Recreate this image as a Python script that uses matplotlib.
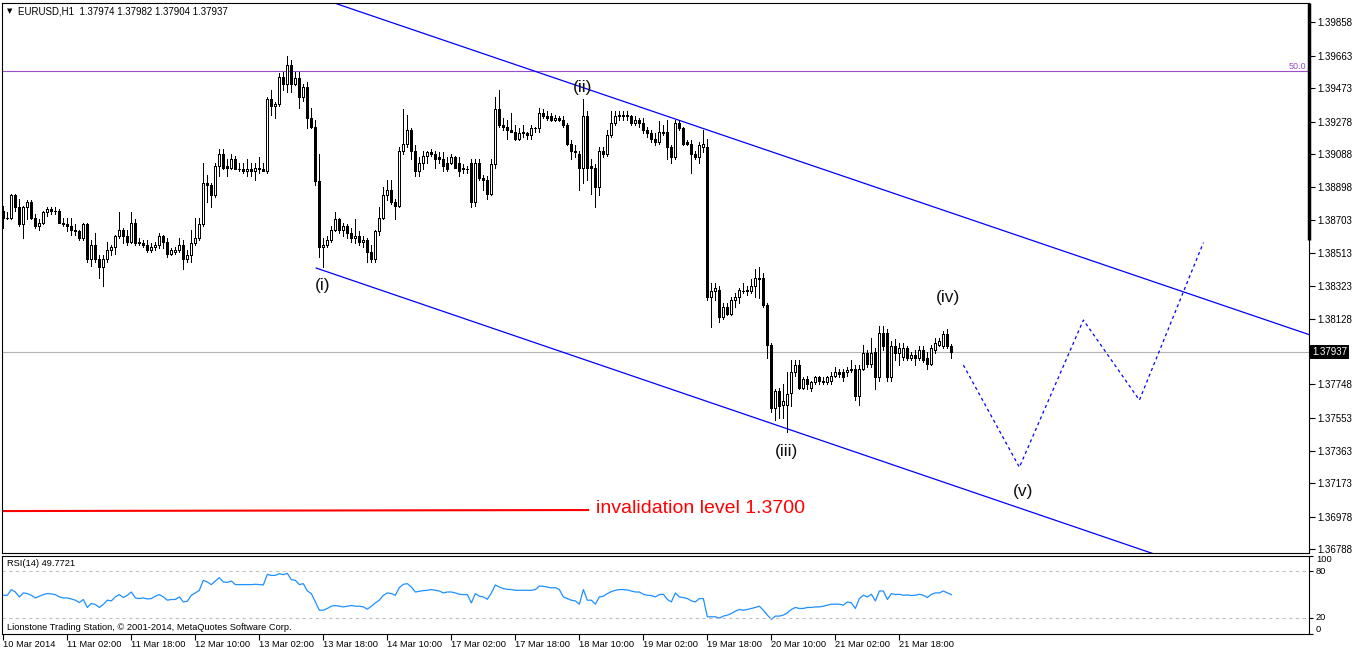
import numpy as np
import matplotlib
matplotlib.use("Agg")
import matplotlib.pyplot as plt
import matplotlib.transforms as mtransforms

plt.rcParams['font.family'] = ['Liberation Sans', 'DejaVu Sans']

# EURUSD H1, one entry per hourly bar (10 Mar 2014 10:00 -> 21 Mar 2014)
opens = [
    1.3876, 1.3872, 1.3872, 1.3885, 1.3878, 1.3868, 1.3878, 1.3881, 1.3872, 1.3867,
    1.3869, 1.3875, 1.3877, 1.3876, 1.3876, 1.3869, 1.3868, 1.3867, 1.3865, 1.3864,
    1.3860, 1.3868, 1.3848, 1.3856, 1.3848, 1.3843, 1.3848, 1.3853, 1.3855, 1.3861,
    1.3865, 1.3861, 1.3858, 1.3869, 1.3858, 1.3857, 1.3856, 1.3853, 1.3855, 1.3856,
    1.3861, 1.3858, 1.3851, 1.3852, 1.3853, 1.3856, 1.3848, 1.3850, 1.3857, 1.3860,
    1.3868, 1.3892, 1.3891, 1.3885, 1.3902, 1.3909, 1.3902, 1.3901, 1.3906, 1.3900,
    1.3900, 1.3899, 1.3900, 1.3899, 1.3901, 1.3900, 1.3899, 1.3941, 1.3937, 1.3938,
    1.3954, 1.3950, 1.3961, 1.3950, 1.3953, 1.3942, 1.3948, 1.3930, 1.3925, 1.3893,
    1.3855, 1.3856, 1.3859, 1.3865, 1.3871, 1.3865, 1.3867, 1.3863, 1.3860, 1.3861,
    1.3858, 1.3859, 1.3852, 1.3848, 1.3864, 1.3872, 1.3885, 1.3888, 1.3881, 1.3879,
    1.3911, 1.3915, 1.3923, 1.3911, 1.3899, 1.3904, 1.3908, 1.3910, 1.3909, 1.3907,
    1.3906, 1.3904, 1.3904, 1.3907, 1.3904, 1.3901, 1.3900, 1.3904, 1.3881, 1.3904,
    1.3895, 1.3894, 1.3886, 1.3903, 1.3935, 1.3926, 1.3925, 1.3923, 1.3922, 1.3918,
    1.3921, 1.3921, 1.3920, 1.3924, 1.3924, 1.3933, 1.3931, 1.3931, 1.3929, 1.3930,
    1.3929, 1.3926, 1.3915, 1.3911, 1.3909, 1.3901, 1.3931, 1.3902, 1.3901, 1.3890,
    1.3911, 1.3909, 1.3920, 1.3927, 1.3931, 1.3932, 1.3931, 1.3931, 1.3927, 1.3929,
    1.3927, 1.3923, 1.3921, 1.3918, 1.3916, 1.3921, 1.3922, 1.3913, 1.3907, 1.3927,
    1.3924, 1.3916, 1.3915, 1.3909, 1.3907, 1.3913, 1.3913, 1.3826, 1.3829, 1.3830,
    1.3814, 1.3820, 1.3816, 1.3824, 1.3826, 1.3829, 1.3830, 1.3829, 1.3832, 1.3836,
    1.3837, 1.3821, 1.3798, 1.3761, 1.3771, 1.3763, 1.3763, 1.3770, 1.3782, 1.3786,
    1.3773, 1.3778, 1.3773, 1.3776, 1.3779, 1.3777, 1.3776, 1.3777, 1.3780, 1.3782,
    1.3782, 1.3782, 1.3784, 1.3784, 1.3768, 1.3784, 1.3793, 1.3787, 1.3794, 1.3779,
    1.3805, 1.3805, 1.3779, 1.3797, 1.3793, 1.3791, 1.3796, 1.3790, 1.3792, 1.3790,
    1.3795, 1.3790, 1.3787, 1.3795, 1.3798, 1.3797, 1.3804, 1.37974,
]
highs = [
    1.3879, 1.3875, 1.3886, 1.3886, 1.3883, 1.3879, 1.3882, 1.3882, 1.3874, 1.3871,
    1.3876, 1.3878, 1.3878, 1.3878, 1.3877, 1.3872, 1.3872, 1.3872, 1.3868, 1.3865,
    1.3869, 1.3869, 1.3859, 1.3863, 1.3850, 1.3850, 1.3858, 1.3856, 1.3862, 1.3875,
    1.3866, 1.3865, 1.3875, 1.3871, 1.3860, 1.3859, 1.3859, 1.3857, 1.3858, 1.3863,
    1.3862, 1.3860, 1.3854, 1.3855, 1.3860, 1.3859, 1.3853, 1.3865, 1.3872, 1.3872,
    1.3904, 1.3897, 1.3892, 1.3904, 1.3912, 1.3912, 1.3906, 1.3909, 1.3908, 1.3904,
    1.3904, 1.3906, 1.3904, 1.3904, 1.3907, 1.3904, 1.3942, 1.3946, 1.3939, 1.3956,
    1.3957, 1.3966, 1.3964, 1.3957, 1.3957, 1.3950, 1.3951, 1.3936, 1.3929, 1.3909,
    1.3860, 1.3861, 1.3867, 1.3875, 1.3872, 1.3869, 1.3868, 1.3866, 1.3871, 1.3864,
    1.3861, 1.3860, 1.3856, 1.3865, 1.3878, 1.3890, 1.3894, 1.3894, 1.3883, 1.3913,
    1.3935, 1.3932, 1.3924, 1.3914, 1.3907, 1.3911, 1.3911, 1.3912, 1.3911, 1.3910,
    1.3910, 1.3907, 1.3909, 1.3908, 1.3907, 1.3903, 1.3902, 1.3906, 1.3906, 1.3906,
    1.3897, 1.3896, 1.3906, 1.3942, 1.3946, 1.3930, 1.3929, 1.3933, 1.3926, 1.3924,
    1.3926, 1.3922, 1.3926, 1.3925, 1.3936, 1.3935, 1.3934, 1.3933, 1.3932, 1.3931,
    1.3931, 1.3927, 1.3917, 1.3914, 1.3911, 1.3941, 1.3934, 1.3906, 1.3903, 1.3913,
    1.3913, 1.3923, 1.3934, 1.3934, 1.3934, 1.3934, 1.3934, 1.3932, 1.3931, 1.3930,
    1.3930, 1.3925, 1.3923, 1.3921, 1.3928, 1.3926, 1.3929, 1.3914, 1.3929, 1.3929,
    1.3925, 1.3917, 1.3917, 1.3911, 1.3916, 1.3923, 1.3918, 1.3834, 1.3834, 1.3832,
    1.3822, 1.3822, 1.3826, 1.3828, 1.3831, 1.3834, 1.3832, 1.3836, 1.3842, 1.3843,
    1.3840, 1.3822, 1.3799, 1.3772, 1.3773, 1.3775, 1.3782, 1.3789, 1.3789, 1.3789,
    1.3779, 1.3780, 1.3777, 1.3780, 1.3780, 1.3779, 1.3780, 1.3782, 1.3785, 1.3784,
    1.3784, 1.3785, 1.3789, 1.3786, 1.3786, 1.3798, 1.3795, 1.3802, 1.3796, 1.3809,
    1.3809, 1.3807, 1.3800, 1.3801, 1.3799, 1.3799, 1.3797, 1.3794, 1.3795, 1.3797,
    1.3797, 1.3794, 1.3798, 1.3802, 1.3802, 1.3806, 1.3807, 1.37982,
]
lows = [
    1.3866, 1.3871, 1.3871, 1.3876, 1.3867, 1.3860, 1.3871, 1.3871, 1.3866, 1.3865,
    1.3868, 1.3873, 1.3874, 1.3874, 1.3869, 1.3867, 1.3864, 1.3862, 1.3862, 1.3859,
    1.3859, 1.3846, 1.3844, 1.3846, 1.3837, 1.3832, 1.3846, 1.3850, 1.3851, 1.3860,
    1.3857, 1.3856, 1.3857, 1.3856, 1.3856, 1.3855, 1.3852, 1.3852, 1.3853, 1.3854,
    1.3854, 1.3849, 1.3850, 1.3851, 1.3852, 1.3842, 1.3846, 1.3846, 1.3856, 1.3859,
    1.3867, 1.3881, 1.3878, 1.3884, 1.3896, 1.3900, 1.3896, 1.3900, 1.3900, 1.3899,
    1.3898, 1.3896, 1.3896, 1.3894, 1.3898, 1.3899, 1.3898, 1.3932, 1.3930, 1.3937,
    1.3946, 1.3945, 1.3945, 1.3949, 1.3936, 1.3940, 1.3924, 1.3924, 1.3891, 1.3849,
    1.3843, 1.3855, 1.3858, 1.3864, 1.3863, 1.3861, 1.3860, 1.3858, 1.3857, 1.3856,
    1.3855, 1.3846, 1.3846, 1.3846, 1.3862, 1.3871, 1.3882, 1.3880, 1.3871, 1.3878,
    1.3909, 1.3913, 1.3906, 1.3896, 1.3896, 1.3900, 1.3904, 1.3908, 1.3901, 1.3904,
    1.3899, 1.3899, 1.3903, 1.3901, 1.3896, 1.3898, 1.3898, 1.3878, 1.3879, 1.3894,
    1.3888, 1.3883, 1.3885, 1.3901, 1.3925, 1.3923, 1.3918, 1.3922, 1.3917, 1.3917,
    1.3919, 1.3918, 1.3918, 1.3922, 1.3922, 1.3930, 1.3929, 1.3928, 1.3928, 1.3928,
    1.3925, 1.3914, 1.3906, 1.3907, 1.3888, 1.3892, 1.3894, 1.3886, 1.3878, 1.3885,
    1.3907, 1.3908, 1.3919, 1.3926, 1.3929, 1.3929, 1.3929, 1.3926, 1.3926, 1.3925,
    1.3921, 1.3919, 1.3916, 1.3914, 1.3915, 1.3920, 1.3906, 1.3904, 1.3906, 1.3923,
    1.3914, 1.3914, 1.3898, 1.3906, 1.3904, 1.3910, 1.3824, 1.3808, 1.3824, 1.3811,
    1.3813, 1.3815, 1.3815, 1.3820, 1.3822, 1.3828, 1.3827, 1.3828, 1.3826, 1.3825,
    1.3820, 1.3790, 1.3759, 1.3754, 1.3755, 1.3755, 1.3747, 1.3762, 1.3780, 1.3772,
    1.3772, 1.3772, 1.3771, 1.3775, 1.3775, 1.3775, 1.3775, 1.3775, 1.3779, 1.3779,
    1.3777, 1.3780, 1.3782, 1.3766, 1.3763, 1.3783, 1.3785, 1.3785, 1.3772, 1.3777,
    1.3795, 1.3777, 1.3777, 1.3789, 1.3786, 1.3789, 1.3789, 1.3789, 1.3786, 1.3789,
    1.3788, 1.3784, 1.3786, 1.3793, 1.3797, 1.3796, 1.3796, 1.37904,
]
closes = [
    1.3872, 1.3872, 1.3885, 1.3878, 1.3868, 1.3878, 1.3881, 1.3872, 1.3867, 1.3869,
    1.3875, 1.3877, 1.3876, 1.3876, 1.3869, 1.3868, 1.3867, 1.3865, 1.3864, 1.3860,
    1.3868, 1.3848, 1.3856, 1.3848, 1.3843, 1.3848, 1.3853, 1.3855, 1.3861, 1.3865,
    1.3861, 1.3858, 1.3869, 1.3857, 1.3857, 1.3856, 1.3853, 1.3855, 1.3856, 1.3861,
    1.3858, 1.3851, 1.3853, 1.3853, 1.3856, 1.3848, 1.3850, 1.3857, 1.3860, 1.3868,
    1.3892, 1.3891, 1.3885, 1.3902, 1.3909, 1.3901, 1.3901, 1.3906, 1.3900, 1.3900,
    1.3899, 1.3900, 1.3899, 1.3901, 1.3900, 1.3899, 1.3941, 1.3937, 1.3938, 1.3954,
    1.3950, 1.3961, 1.3950, 1.3953, 1.3942, 1.3948, 1.3930, 1.3925, 1.3893, 1.3855,
    1.3856, 1.3859, 1.3865, 1.3871, 1.3865, 1.3867, 1.3863, 1.3860, 1.3861, 1.3858,
    1.3859, 1.3852, 1.3848, 1.3864, 1.3872, 1.3885, 1.3888, 1.3881, 1.3879, 1.3911,
    1.3915, 1.3923, 1.3911, 1.3899, 1.3904, 1.3908, 1.3910, 1.3909, 1.3906, 1.3906,
    1.3902, 1.3900, 1.3907, 1.3901, 1.3899, 1.3900, 1.3900, 1.3881, 1.3904, 1.3895,
    1.3894, 1.3886, 1.3903, 1.3935, 1.3926, 1.3925, 1.3923, 1.3922, 1.3918, 1.3921,
    1.3922, 1.3920, 1.3924, 1.3924, 1.3933, 1.3931, 1.3930, 1.3929, 1.3930, 1.3929,
    1.3926, 1.3915, 1.3911, 1.3910, 1.3901, 1.3931, 1.3901, 1.3901, 1.3890, 1.3911,
    1.3909, 1.3920, 1.3927, 1.3931, 1.3932, 1.3931, 1.3932, 1.3927, 1.3929, 1.3927,
    1.3923, 1.3921, 1.3918, 1.3916, 1.3922, 1.3922, 1.3913, 1.3907, 1.3927, 1.3924,
    1.3915, 1.3915, 1.3909, 1.3907, 1.3914, 1.3915, 1.3826, 1.3829, 1.3831, 1.3814,
    1.3820, 1.3816, 1.3824, 1.3826, 1.3830, 1.3829, 1.3829, 1.3832, 1.3837, 1.3837,
    1.3821, 1.3798, 1.3761, 1.3771, 1.3762, 1.3765, 1.3769, 1.3782, 1.3786, 1.3773,
    1.3778, 1.3775, 1.3776, 1.3779, 1.3777, 1.3776, 1.3779, 1.3780, 1.3782, 1.3781,
    1.3779, 1.3783, 1.3783, 1.3768, 1.3784, 1.3793, 1.3787, 1.3793, 1.3779, 1.3805,
    1.3797, 1.3779, 1.3797, 1.3793, 1.3796, 1.3796, 1.3790, 1.3792, 1.3790, 1.3795,
    1.3789, 1.3787, 1.3796, 1.3799, 1.3800, 1.3804, 1.3797, 1.37937,
]
rsi14 = [
    49.0, 49.0, 56.3, 53.2, 46.9, 52.0, 51.2, 49.0, 45.6, 47.8,
    49.9, 51.2, 50.7, 49.9, 46.9, 45.6, 45.6, 44.3, 42.7, 39.7,
    43.6, 33.4, 38.5, 37.2, 33.4, 37.2, 42.7, 41.8, 46.9, 49.9,
    46.1, 49.0, 53.2, 45.6, 44.8, 45.6, 44.3, 44.8, 47.8, 49.9,
    46.9, 42.7, 43.6, 43.6, 46.9, 40.5, 41.4, 49.0, 52.0, 55.4,
    68.2, 66.0, 62.7, 67.3, 71.6, 66.0, 65.6, 67.3, 62.7, 62.7,
    62.7, 62.7, 62.7, 63.1, 62.7, 62.3, 75.8, 74.5, 74.5, 76.7,
    75.4, 77.1, 69.0, 68.2, 62.7, 63.9, 54.5, 51.2, 40.5, 29.9,
    29.9, 32.1, 35.0, 35.9, 35.0, 34.1, 35.0, 35.9, 35.0, 35.0,
    34.1, 31.2, 35.0, 39.2, 42.7, 49.0, 52.0, 51.2, 49.0, 58.9,
    63.1, 63.9, 59.6, 53.2, 54.1, 55.0, 55.4, 56.3, 55.4, 54.5,
    52.0, 53.2, 53.2, 52.0, 50.3, 49.9, 49.9, 39.2, 51.2, 47.8,
    46.9, 43.9, 52.0, 62.2, 59.6, 57.5, 56.7, 56.3, 55.4, 55.4,
    55.4, 55.4, 55.4, 56.3, 60.9, 60.5, 59.6, 58.4, 58.8, 56.3,
    46.9, 44.8, 42.7, 41.8, 37.6, 56.3, 42.7, 42.7, 37.6, 46.9,
    47.8, 51.2, 53.7, 55.4, 56.3, 56.3, 55.8, 54.5, 53.2, 53.2,
    50.3, 49.0, 48.7, 46.9, 49.9, 50.3, 43.6, 40.5, 52.0, 46.9,
    46.1, 44.8, 41.8, 40.5, 44.8, 44.8, 21.4, 21.4, 21.4, 19.7,
    22.3, 23.6, 25.7, 28.7, 30.8, 29.9, 30.8, 32.1, 33.4, 35.0,
    29.9, 23.6, 18.1, 22.3, 22.3, 23.6, 26.5, 30.8, 33.4, 32.1,
    32.1, 33.4, 33.4, 34.1, 34.1, 35.0, 36.3, 37.6, 37.6, 37.6,
    36.3, 40.5, 39.2, 32.1, 44.8, 49.0, 46.9, 50.3, 41.8, 54.5,
    54.5, 43.6, 51.2, 49.9, 50.3, 49.0, 49.4, 48.7, 49.0, 50.3,
    49.0, 46.1, 50.3, 52.0, 52.0, 54.5, 52.0, 49.7721,
]

time_labels = ["10 Mar 2014", "11 Mar 02:00", "11 Mar 18:00", "12 Mar 10:00",
               "13 Mar 02:00", "13 Mar 18:00", "14 Mar 10:00", "17 Mar 02:00",
               "17 Mar 18:00", "18 Mar 10:00", "19 Mar 02:00", "19 Mar 18:00",
               "20 Mar 10:00", "21 Mar 02:00", "21 Mar 18:00"]
price_ticks = [1.39858, 1.39663, 1.39473, 1.39278, 1.39088, 1.38898, 1.38703, 1.38513,
               1.38323, 1.38128, 1.37748, 1.37553, 1.37363, 1.37173, 1.36978, 1.36788]
rsi_levels = [80, 20]
fib_50 = 1.39574

# drawn objects: (bar index, price)
upper_channel = ([83.4, 330.0], [1.39964, 1.38010])
lower_channel = ([78.2, 289.2], [1.38426, 1.36749])
wave_path = ([240, 254, 270, 284, 300], [1.37861, 1.37266, 1.38123, 1.37657, 1.38574])
invalidation_line = ([-0.33, 146.2], [1.37011, 1.37017])
wave_labels = [("(i)", 79.9, 1.38327), ("(ii)", 144.9, 1.39480), ("(iii)", 195.9, 1.37360),
               ("(iv)", 236.2, 1.38257), ("(v)", 254.9, 1.37122)]

o = np.array(opens)
h = np.array(highs)
l = np.array(lows)
c = np.array(closes)
bars = np.arange(len(c))
up = c >= o

W, H = 1352, 652
fig = plt.figure(figsize=(W / 100, H / 100), dpi=100)
ax = fig.add_axes([2 / W, 1 - 553.3 / H, 1307 / W, 550.6 / H])
rx = fig.add_axes([2 / W, 1 - 633.5 / H, 1307 / W, 78 / H])
xlim = (-0.33, 326.4)
ylim = (1.36765, 1.39971)

# candles
ax.vlines(bars, l, h, color='black', lw=0.6, antialiased=False, zorder=3)
ax.bar(bars[up], c[up] - o[up], bottom=o[up], width=0.5, facecolor='white',
       edgecolor='black', lw=0.6, antialiased=False, zorder=4)
ax.bar(bars[~up], o[~up] - c[~up], bottom=c[~up], width=0.5, facecolor='black',
       edgecolor='black', lw=0.6, antialiased=False, zorder=4)

ax.axhline(c[-1], color='#b4b4b4', lw=0.8, zorder=1)
ax.axhline(fib_50, color='#9b4dca', lw=0.8, zorder=1)
ax.text(xlim[1] - 0.6, fib_50, '50.0', ha='right', va='bottom', fontsize=6.5, color='#9b4dca')

ax.plot(*upper_channel, color='#0000ff', lw=0.9, zorder=2)
ax.plot(*lower_channel, color='#0000ff', lw=0.9, zorder=2)
ax.plot(*wave_path, color='#0000ff', lw=0.9, ls=(0, (2.5, 2.5)), zorder=2)
ax.plot(*invalidation_line, color='#ff0000', lw=1.5, zorder=2)
ax.text(148.2, 1.37023, 'invalidation level 1.3700', color='#ff0000', fontsize=14,
        ha='left', va='center')
for txt, bx, py in wave_labels:
    ax.text(bx, py, txt, ha='center', va='center', fontsize=12.5, color='#111111')

ax.set_xlim(xlim)
ax.set_ylim(ylim)
ax.yaxis.tick_right()
ax.set_yticks(price_ticks)
ax.set_yticklabels([f'{t:.5f}' for t in price_ticks])
ax.tick_params(axis='y', direction='out', length=4, width=0.8, labelsize=7, pad=2)
ax.tick_params(axis='x', bottom=False, labelbottom=False)
for s in ax.spines.values():
    s.set_linewidth(0.8)

trans = mtransforms.blended_transform_factory(ax.transAxes, ax.transData)
ax.text(1.0025, c[-1], f'{c[-1]:.5f}', transform=trans, ha='left', va='center',
        color='white', fontsize=7, clip_on=False,
        bbox=dict(boxstyle='square,pad=0.2', fc='black', ec='none'))
ax.plot([xlim[1], xlim[1]], [ylim[1], 1.38589], color='black', lw=2.5,
        solid_capstyle='butt', clip_on=False, zorder=5)

fig.text(7 / W, 1 - 11 / H, '\u25bc', fontsize=5, family='DejaVu Sans', va='center')
fig.text(18 / W, 1 - 11 / H,
         f'EURUSD,H1  {o[-1]:.5f} {h[-1]:.5f} {l[-1]:.5f} {c[-1]:.5f}',
         fontsize=7, va='center')

# RSI panel
rx.plot(bars, rsi14, color='#1e90ff', lw=0.9)
for lev in rsi_levels:
    rx.axhline(lev, color='#c0c0c0', lw=0.8, ls=(0, (3, 3)))
rx.set_xlim(xlim)
rx.set_ylim(0, 100)
rx.yaxis.tick_right()
rx.set_yticks([100, 80, 20, 0])
rx.set_yticklabels(['100', '80', '20', '0'])
rx.tick_params(axis='y', direction='out', length=3, width=0.8, labelsize=6.7, pad=2)
for lab, va in zip(rx.get_yticklabels(), ['top', 'center', 'center', 'bottom']):
    lab.set_va(va)
rx.set_xticks(bars[::16])
rx.set_xticklabels(time_labels, ha='left')
rx.tick_params(axis='x', direction='out', length=4, width=0.8, labelsize=6.7, pad=1)
for s in rx.spines.values():
    s.set_linewidth(0.8)

fig.text(7 / W, 1 - 564 / H, f'RSI(14) {rsi14[-1]:.4f}', fontsize=6.7, va='center')
fig.text(7 / W, 1 - 627 / H,
         'Lionstone Trading Station, \u00a9 2001-2014, MetaQuotes Software Corp.',
         fontsize=6.7, va='center')

fig.savefig('out.png', dpi=100, facecolor='white')
